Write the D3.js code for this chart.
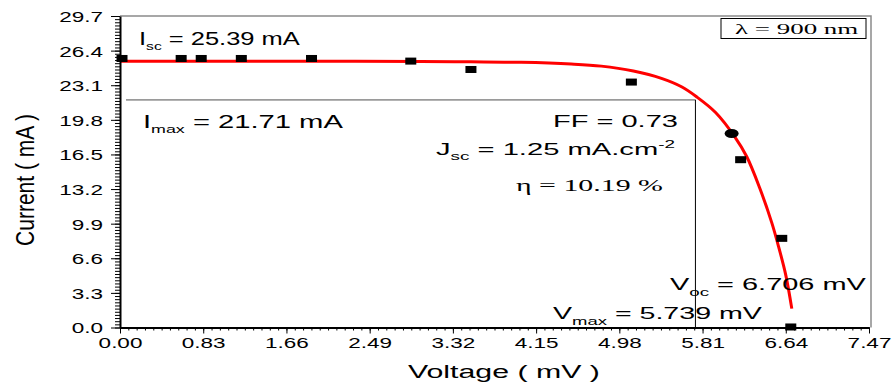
<!DOCTYPE html>
<html>
<head>
<meta charset="utf-8">
<script src="https://cdn.jsdelivr.net/npm/d3@7"></script>
<style>
  body { margin: 0; background: #fff; }
  svg { display: block; }
  text { font-family: "Liberation Sans", Arial, sans-serif; fill: #000; white-space: pre; }
  .serif { font-family: "Liberation Serif", "Times New Roman", serif; }
</style>
</head>
<body>
<svg id="chart" width="893" height="385"></svg>
<script>
// ---------- Data ----------
// measured points (squares)
const voltage = [0.02, 0.61, 0.81, 1.21, 1.91, 2.90, 3.50, 5.10, 6.19, 6.60, 6.69];
const current = [25.65, 25.65, 25.65, 25.65, 25.65, 25.40, 24.60, 23.40, 16.00, 8.50, 0.05];
// the single round marker
const circleVoltage = [6.10];
const circleCurrent = [18.5];
// red fitted curve
const fitVoltage = [0, 1.0, 2.0, 3.0, 3.5, 4.0, 4.5, 4.8, 5.12, 5.4, 5.6, 5.75, 5.94, 6.13, 6.25, 6.38, 6.5, 6.56, 6.64, 6.70];
const fitCurrent = [25.39, 25.39, 25.38, 25.36, 25.33, 25.28, 25.12, 24.92, 24.45, 23.75, 22.95, 22.0, 20.5, 18.2, 16.3, 13.3, 10.0, 8.0, 5.0, 1.8];
// max power point guides
const vMax = 5.739, iMax = 21.71;
// axis ticks
const xTicks = [0, 0.83, 1.66, 2.49, 3.32, 4.15, 4.98, 5.81, 6.64, 7.47];
const yTicks = [0, 3.3, 6.6, 9.9, 13.2, 16.5, 19.8, 23.1, 26.4, 29.7];

// ---------- Layout ----------
const svg = d3.select("#chart");
const x = d3.scaleLinear().domain([0, 7.47]).range([120, 869]);
const y = d3.scaleLinear().domain([0, 29.7]).range([327.5, 16]);
const K = 1.5; // horizontal stretch of tick labels

// frame (top / right), grey
svg.append("path")
  .attr("d", `M${x(0)},${y(29.7)} H${x(7.47) + 2} V${y(0)}`)
  .attr("fill", "none").attr("stroke", "#8a8a8a").attr("stroke-width", 1.5);

// guides
svg.append("line")
  .attr("x1", x(0) + 6).attr("x2", x(vMax))
  .attr("y1", y(iMax)).attr("y2", y(iMax))
  .attr("stroke", "#9a9a9a").attr("stroke-width", 1.8);
svg.append("line")
  .attr("x1", x(vMax)).attr("x2", x(vMax))
  .attr("y1", y(iMax)).attr("y2", y(0))
  .attr("stroke", "#000").attr("stroke-width", 1);

// fit curve
const fit = fitVoltage.map((v, i) => [v, fitCurrent[i]]);
svg.append("path")
  .datum(fit)
  .attr("fill", "none").attr("stroke", "#ff0000").attr("stroke-width", 3)
  .attr("d", d3.line().x(d => x(d[0])).y(d => y(d[1])).curve(d3.curveCatmullRom));

// markers
const pts = voltage.map((v, i) => [v, current[i]]);
svg.append("g").selectAll("rect").data(pts).join("rect")
  .attr("x", d => x(d[0]) - 5.5).attr("y", d => y(d[1]) - 3.5)
  .attr("width", 11).attr("height", 7).attr("fill", "#000");
svg.append("g").selectAll("ellipse").data(circleVoltage.map((v, i) => [v, circleCurrent[i]])).join("ellipse")
  .attr("cx", d => x(d[0])).attr("cy", d => y(d[1]))
  .attr("rx", 7).attr("ry", 4.5).attr("fill", "#000");

// ---------- Axes ----------
const xMinor = d3.range(0, 7.47 + 1e-6, 0.083);
const yMinor = d3.range(0, 29.7 + 1e-6, 0.3);

const xMinorG = svg.append("g").attr("transform", `translate(0,${y(0)})`)
  .call(d3.axisBottom(x).tickValues(xMinor).tickSize(3).tickSizeOuter(0).tickFormat(""));
const yMinorG = svg.append("g").attr("transform", `translate(${x(0)},0)`)
  .call(d3.axisLeft(y).tickValues(yMinor).tickSize(5).tickSizeOuter(0).tickFormat(""));
[xMinorG, yMinorG].forEach(g => g.select(".domain").remove());

const xAxisG = svg.append("g").attr("transform", `translate(0,${y(0)})`)
  .call(d3.axisBottom(x).tickValues(xTicks).tickSize(6).tickSizeOuter(0).tickFormat(d => d.toFixed(2)));
const yAxisG = svg.append("g").attr("transform", `translate(${x(0)},0)`)
  .call(d3.axisLeft(y).tickValues(yTicks).tickSize(9).tickSizeOuter(0).tickFormat(d => d.toFixed(1)));

[xAxisG, yAxisG, xMinorG, yMinorG].forEach(g => {
  g.selectAll(".tick line").attr("stroke", "#000").attr("stroke-width", 1);
});
[xAxisG, yAxisG].forEach(g => {
  g.select(".domain").attr("stroke", "#000").attr("stroke-width", 2);
  g.selectAll("text").attr("font-family", null).attr("font-size", 15).attr("fill", "#000");
});
xAxisG.selectAll("text").attr("y", 10).attr("dy", "0.71em")
  .attr("transform", `scale(${K},1)`);
yAxisG.selectAll("text").attr("x", -17 / K).attr("dy", "0.36em")
  .attr("transform", `scale(${K},1)`);

// ---------- Text helpers ----------
function stretch(sel, left, base, width) {
  const w = sel.node().getBBox().width;
  sel.attr("x", 0).attr("y", 0)
    .attr("transform", `translate(${left},${base}) scale(${width / w},1)`);
}
function label(parts, size, cls) {
  const t = svg.append("text").attr("font-size", size);
  if (cls) t.attr("class", cls);
  parts.forEach(p => {
    const s = t.append("tspan").text(p.t);
    if (p.dy) s.attr("dy", p.dy);
    if (p.fs) s.attr("font-size", p.fs);
  });
  return t;
}

// axis titles
const xt = svg.append("text").attr("font-size", 18).text("Voltage ( mV )");
stretch(xt, 408, 378, 192);
svg.append("text").attr("font-size", 21).attr("text-anchor", "middle")
  .attr("transform", "translate(34,180) scale(1.25,1) rotate(-90)")
  .text("Current ( mA )");

// annotations
stretch(label([{ t: "I" }, { t: "sc", fs: 11, dy: 5 }, { t: " = 25.39 mA", dy: -5 }], 18), 139, 45, 161);
stretch(label([{ t: "I" }, { t: "max", fs: 11, dy: 5 }, { t: " = 21.71 mA", dy: -5 }], 18), 143, 128, 200);
stretch(label([{ t: "FF = 0.73" }], 17), 553, 127, 125);
stretch(label([{ t: "J" }, { t: "sc", fs: 11, dy: 5 }, { t: " = 1.25 mA.cm", dy: -5 }, { t: "-2", fs: 11, dy: -7 }], 17), 436, 155, 239);
stretch(label([{ t: "\u03b7 = 10.19 %" }], 17, "serif"), 516, 191, 147);
stretch(label([{ t: "V" }, { t: "oc", fs: 11, dy: 6 }, { t: " = 6.706 mV", dy: -6 }], 17), 670, 290, 197);
stretch(label([{ t: "V" }, { t: "max", fs: 11, dy: 6 }, { t: " = 5.739 mV", dy: -6 }], 17), 553, 319, 210);

// wavelength box
svg.append("rect")
  .attr("x", 721).attr("y", 18.5).attr("width", 145).attr("height", 20)
  .attr("fill", "#fff").attr("stroke", "#000").attr("stroke-width", 1);
stretch(label([{ t: "\u03bb = 900 nm" }], 15, "serif"), 735, 33.5, 124);
</script>
</body>
</html>
